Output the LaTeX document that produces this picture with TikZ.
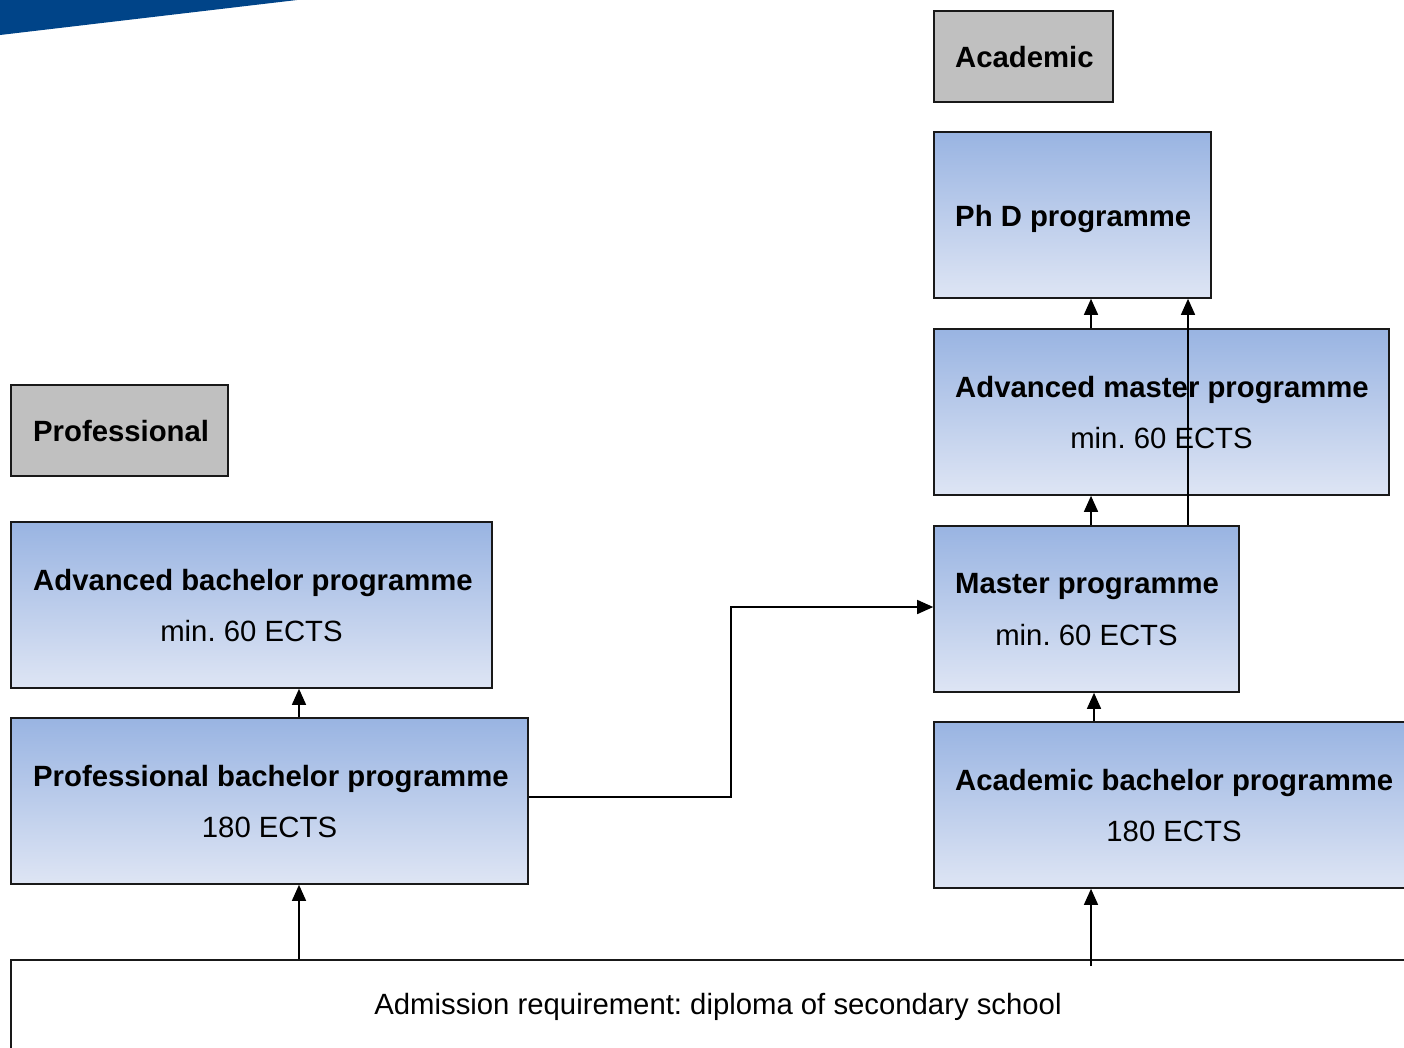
\documentclass[tikz,border=0pt]{standalone}
\usepackage{fontspec}
\setmainfont{Liberation Sans}
\usetikzlibrary{arrows.meta}
\frenchspacing
\definecolor{bandblue}{RGB}{0,68,136}
\definecolor{gradtop}{RGB}{153,180,226}
\definecolor{gradbot}{RGB}{222,229,244}
\definecolor{labgray}{RGB}{192,192,192}
\definecolor{edge}{RGB}{25,25,25}
\tikzset{
  prog/.style={draw=edge, line width=1.6pt, rectangle, inner sep=0pt, top color=gradtop, bottom color=gradbot},
  kind/.style={draw=edge, line width=1.6pt, rectangle, inner sep=0pt, fill=labgray},
  plain/.style={draw=edge, line width=1.6pt, rectangle, inner sep=0pt, fill=white},
  ttl/.style={inner sep=0pt, anchor=west, font=\bfseries\fontsize{29.3}{34}\selectfont},
  sub/.style={inner sep=0pt, font=\fontsize{29.3}{34}\selectfont},
  arr/.style={draw=black, line width=1.4pt, -{Triangle[length=16pt,width=14pt]}},
  lin/.style={draw=black, line width=1.4pt}
}
\begin{document}
\begin{tikzpicture}[x=1pt,y=-1pt]
\clip (0,0) rectangle (1404,1047);
\fill[white] (0,0) rectangle (1404,1047);
% decorative band
\fill[bandblue] (0,0) -- (297,0) -- (0,35) -- cycle;

% category labels
\node[kind, minimum width=179pt, minimum height=91pt] (acad) at (1023.5,56.5) {};
\node[ttl] (acadT) at (955,57) {Academic};
\node[kind, minimum width=217pt, minimum height=91pt] (prof) at (119.5,430.5) {};
\node[ttl] (profT) at (33,431) {Professional};

% academic column
\node[prog, minimum width=277pt, minimum height=166pt] (phd) at (1072.5,215) {};
\node[ttl] (phdT) at (955,219) {Ph D programme};

\node[prog, minimum width=455pt, minimum height=166pt] (advm) at (1161.5,412) {};
\node[ttl] (advmT) at (955,390) {Advanced master programme};
\node[sub] (advmS) at (1161.5,438) {min. 60 ECTS};

\node[prog, minimum width=305pt, minimum height=166pt] (mast) at (1086.5,609) {};
\node[ttl] (mastT) at (955,587) {Master programme};
\node[sub] (mastS) at (1086.5,635) {min. 60 ECTS};

\node[prog, minimum width=480pt, minimum height=166pt] (acb) at (1174,805) {};
\node[ttl] (acbT) at (955,783) {Academic bachelor programme};
\node[sub] (acbS) at (1174,831) {180 ECTS};

% professional column
\node[prog, minimum width=481pt, minimum height=166pt] (advb) at (251.5,605) {};
\node[ttl] (advbT) at (33,583) {Advanced bachelor programme};
\node[sub] (advbS) at (251.5,631) {min. 60 ECTS};

\node[prog, minimum width=517pt, minimum height=166pt] (profb) at (269.5,801) {};
\node[ttl] (profbT) at (33,779) {Professional bachelor programme};
\node[sub] (profbS) at (269.5,827) {180 ECTS};

% admission
\node[plain, minimum width=1414pt, minimum height=180pt] (adm) at (718,1050) {};
\node[sub] (admT) at (718,1007) {Admission requirement: diploma of secondary school};

% helper coordinates for vertical connector positions
\coordinate (xp) at (299,0);
\coordinate (xa) at (1091,0);
\coordinate (xb) at (1094,0);
\coordinate (xc) at (1188,0);
\coordinate (xm) at (731,0);
\coordinate (admlow) at (1091,966);
\coordinate (ry) at (0,797);
\coordinate (ly) at (0,607);

% connectors
\draw[arr] (adm.north -| xp) -- (profb.south -| xp);
\draw[arr] (profb.north -| xp) -- (advb.south -| xp);
\draw[arr] (admlow) -- (acb.south -| xa);
\draw[arr] (acb.north -| xb) -- (mast.south -| xb);
\draw[arr] (mast.north -| xa) -- (advm.south -| xa);
\draw[arr] (advm.north -| xa) -- (phd.south -| xa);
\draw[arr] (mast.north -| xc) -- (phd.south -| xc);
\draw[arr] (profb.east |- ry) -| (xm |- ly) -- (mast.west |- ly);
\end{tikzpicture}
\end{document}
